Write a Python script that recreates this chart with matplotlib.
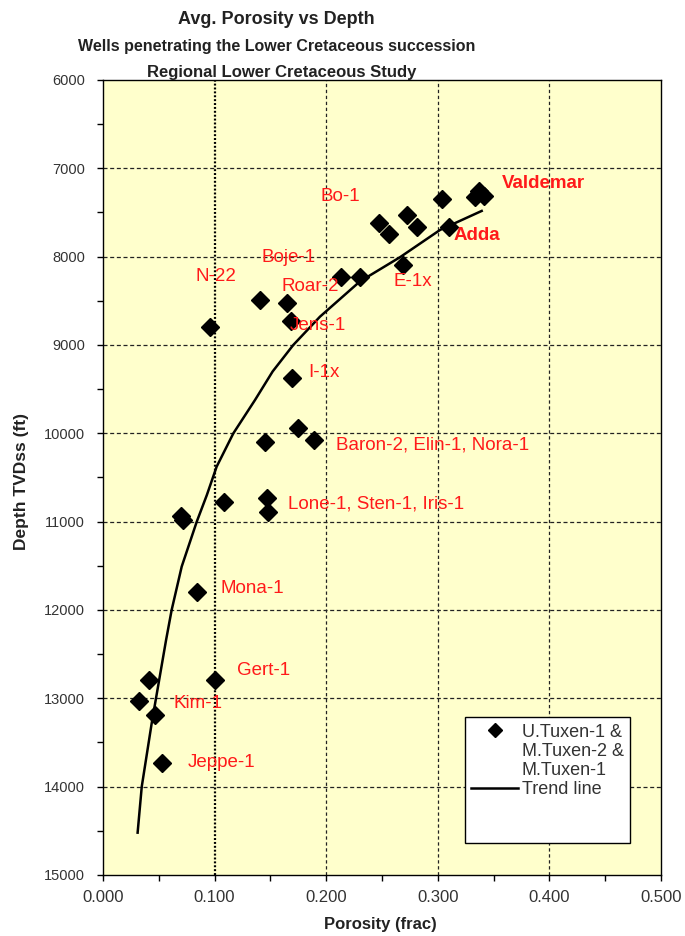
"""Average porosity vs depth for wells penetrating the Lower Cretaceous."""

import matplotlib
matplotlib.use("Agg")
import matplotlib.pyplot as plt
from matplotlib.lines import Line2D
from matplotlib.ticker import MultipleLocator, FormatStrFormatter

# --- Well averages (porosity fraction, depth ft TVDss) ---
porosity = [0.096, 0.141, 0.165, 0.168, 0.213, 0.230, 0.169,
            0.247, 0.256, 0.272, 0.281, 0.304, 0.333, 0.337, 0.341,
            0.310, 0.269,
            0.070, 0.072, 0.108, 0.145, 0.175, 0.189, 0.147, 0.148,
            0.084, 0.041, 0.100, 0.032, 0.047, 0.053]
depth = [8793, 8491, 8521, 8725, 8227, 8227, 9377,
         7615, 7743, 7528, 7668, 7351, 7321, 7253, 7310,
         7668, 8094,
         10936, 10981, 10774, 10095, 9943, 10076, 10735, 10887,
         11793, 12793, 12793, 13030, 13189, 13729]

# --- Trend line vertices ---
trend_porosity = [0.031, 0.0347, 0.0436, 0.0565, 0.0615, 0.0705, 0.084,
                  0.093, 0.1018, 0.1168, 0.1362, 0.152, 0.1705, 0.1944,
                  0.2303, 0.2661, 0.302, 0.3393]
trend_depth = [14521, 14000, 13283, 12340, 12000, 11509, 11000,
               10700, 10378, 10000, 9623, 9300, 9000, 8680,
               8280, 8007, 7698, 7483]

# --- Well name annotations ---
well_names = ["Bo-1", "Boje-1", "N-22", "Roar-2", "Jens-1", "I-1x",
              "Valdemar", "Adda", "E-1x", "Baron-2, Elin-1, Nora-1",
              "Lone-1, Sten-1, Iris-1", "Mona-1", "Gert-1", "Kim-1", "Jeppe-1"]
name_x = [0.195, 0.1423, 0.0833, 0.1601, 0.1676, 0.184,
          0.3572, 0.3145, 0.2602, 0.2088,
          0.166, 0.1054, 0.1204, 0.063, 0.0756]
name_y = [7322, 8007, 8227, 8340, 8785, 9313,
          7170, 7766, 8283, 10132,
          10800, 11754, 12687, 13064, 13729]
name_bold = ["Valdemar", "Adda"]

FONT = ["Liberation Sans", "DejaVu Sans"]


def main() -> None:
    plt.rcParams["font.family"] = FONT
    plt.rcParams["lines.scale_dashes"] = False

    fig = plt.figure(figsize=(6.85, 9.36), dpi=100)
    ax = fig.add_axes([0.1504, 0.0652, 0.8146, 0.8494])
    ax.set_facecolor("#FFFFCC")

    # grid: dashed lines, with the 0.1 porosity line dotted
    for d in range(7000, 15000, 1000):
        ax.axhline(d, color="#222222", lw=0.9, ls=(0, (2.9, 1.9)), zorder=1)
    for p in [0.2, 0.3, 0.4]:
        ax.axvline(p, color="#222222", lw=0.9, ls=(0, (2.4, 1.9)), zorder=1)
    ax.axvline(0.1, color="black", lw=1.6, ls=(0, (1.4, 1.4)), zorder=1)

    ax.plot(trend_porosity, trend_depth, color="black", lw=1.8, zorder=3)
    ax.plot(porosity, depth, ls="none", marker="D", ms=8.8, color="black", zorder=4)

    for name, x, y in zip(well_names, name_x, name_y):
        ax.text(x, y, name, color="#FF1A1A", fontsize=13.5, ha="left", va="center",
                fontweight="bold" if name in name_bold else "normal", zorder=5)

    ax.set_xlim(0, 0.5)
    ax.set_ylim(15000, 6000)
    ax.xaxis.set_major_locator(MultipleLocator(0.1))
    ax.xaxis.set_minor_locator(MultipleLocator(0.05))
    ax.xaxis.set_major_formatter(FormatStrFormatter("%.3f"))
    ax.yaxis.set_major_locator(MultipleLocator(1000))
    ax.yaxis.set_minor_locator(MultipleLocator(500))
    ax.tick_params(axis="both", which="both", direction="out", length=4, width=1, color="black")
    ax.tick_params(axis="x", which="major", labelsize=12, labelcolor="#333333", pad=7)
    ax.tick_params(axis="y", which="major", labelsize=10.5, labelcolor="#333333", pad=9)
    for s in ax.spines.values():
        s.set_color("black")
        s.set_linewidth(1)

    fig.text(380 / 685, 1 - 925 / 936, "Porosity (frac)", ha="center", va="center",
             fontsize=12, fontweight="bold", color="#222222")
    fig.text(22 / 685, 1 - 482 / 936, "Depth TVDss (ft)", ha="center", va="center",
             rotation=90, fontsize=12.5, fontweight="bold", color="#222222")

    fig.text(276 / 685, 1 - 20 / 936, "Avg. Porosity vs Depth", ha="center", va="center",
             fontsize=13, fontweight="bold", color="#222222")
    fig.text(277 / 685, 1 - 47 / 936, "Wells penetrating the Lower Cretaceous succession",
             ha="center", va="center", fontsize=11.5, fontweight="bold", color="#222222")
    fig.text(282 / 685, 1 - 72 / 936, "Regional Lower Cretaceous Study", ha="center",
             va="center", fontsize=12, fontweight="bold", color="#222222")

    # legend with blank rows to leave room at the bottom of the box
    blank = Line2D([], [], ls="none")
    handles = [Line2D([], [], ls="none", marker="D", ms=7, color="black"),
               blank, blank,
               Line2D([], [], color="black", lw=1.8),
               blank, blank]
    labels = ["U.Tuxen-1 &", "M.Tuxen-2 &", "M.Tuxen-1", "Trend line", " ", " "]
    leg = ax.legend(handles, labels, loc="upper left", bbox_to_anchor=(0.6487, 0.1984),
                    borderaxespad=0, fontsize=13, labelcolor="#333333",
                    handlelength=2.6, handletextpad=0.2, labelspacing=0.12,
                    borderpad=0.35, fancybox=False, framealpha=1, edgecolor="black")
    leg.get_frame().set_linewidth(1)

    plt.savefig("out.png", dpi=100)
    plt.close()


if __name__ == "__main__":
    main()
